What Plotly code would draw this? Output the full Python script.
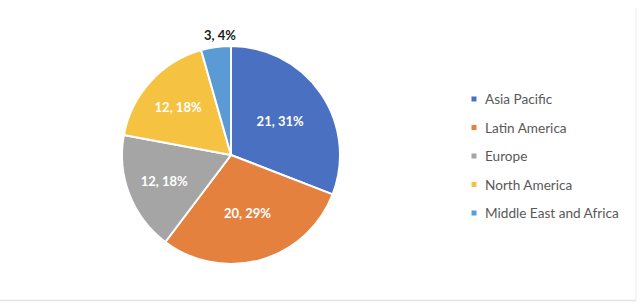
import plotly.graph_objects as go

categories = ["Asia Pacific", "Latin America", "Europe", "North America", "Middle East and Africa"]
values = [21, 20, 12, 12, 3]
colors = ["#4a70c1", "#e4813f", "#a5a5a5", "#f6c242", "#5b9bd5"]

W, H = 640, 308
cx, cy, r = 231, 155, 109

# inside labels for large slices; the small slice gets its label above the pie
templates = ["%{value}, %{percent:.0%}"] * (len(values) - 1) + [""]

fig = go.Figure()
fig.add_trace(go.Pie(
    labels=categories,
    values=values,
    sort=False,
    direction="clockwise",
    rotation=0,
    marker=dict(colors=colors, line=dict(color="white", width=2)),
    texttemplate=templates,
    textposition="inside",
    insidetextorientation="horizontal",
    insidetextfont=dict(family="Lato", size=13, color="white", weight="bold"),
    hoverinfo="label+value+percent",
    showlegend=False,
    domain=dict(x=[(cx - r) / W, (cx + r) / W], y=[(H - cy - r) / H, (H - cy + r) / H]),
))

total = sum(values)
small_label = f"{values[-1]}, {round(100 * values[-1] / total)}%"
fig.add_annotation(x=220 / W, y=1 - 35 / H, xref="paper", yref="paper",
                   text=f"<b>{small_label}</b>", showarrow=False,
                   xanchor="center", yanchor="middle",
                   font=dict(family="Lato", size=13, color="#1a1a1a"))

# Manual legend
leg_x_sq = 474
leg_x_txt = 483
leg_y0 = 99
leg_dy = 28.5
for i, (name, col) in enumerate(zip(categories, colors)):
    y = leg_y0 + i * leg_dy
    fig.add_shape(type="rect", xref="paper", yref="paper",
                  x0=(leg_x_sq - 2.5) / W, x1=(leg_x_sq + 2.5) / W,
                  y0=1 - (y + 2.5) / H, y1=1 - (y - 2.5) / H,
                  fillcolor=col, line=dict(width=0))
    fig.add_annotation(x=leg_x_txt / W, y=1 - y / H, xref="paper", yref="paper",
                       text=name, showarrow=False, xanchor="left", yanchor="middle",
                       font=dict(family="Lato", size=13.6, color="#595959"))

# faint frame lines
fig.add_shape(type="line", xref="paper", yref="paper", x0=0, x1=636 / W,
              y0=1 - 300.5 / H, y1=1 - 300.5 / H, line=dict(color="#e3e3e3", width=1.5))
fig.add_shape(type="line", xref="paper", yref="paper", x0=636 / W, x1=636 / W,
              y0=1 - 8 / H, y1=1 - 300.5 / H, line=dict(color="#ececec", width=1))

fig.update_layout(
    width=W, height=H,
    margin=dict(l=0, r=0, t=0, b=0),
    paper_bgcolor="white",
    plot_bgcolor="white",
    font=dict(family="Lato"),
)

fig.write_html("out.html")
